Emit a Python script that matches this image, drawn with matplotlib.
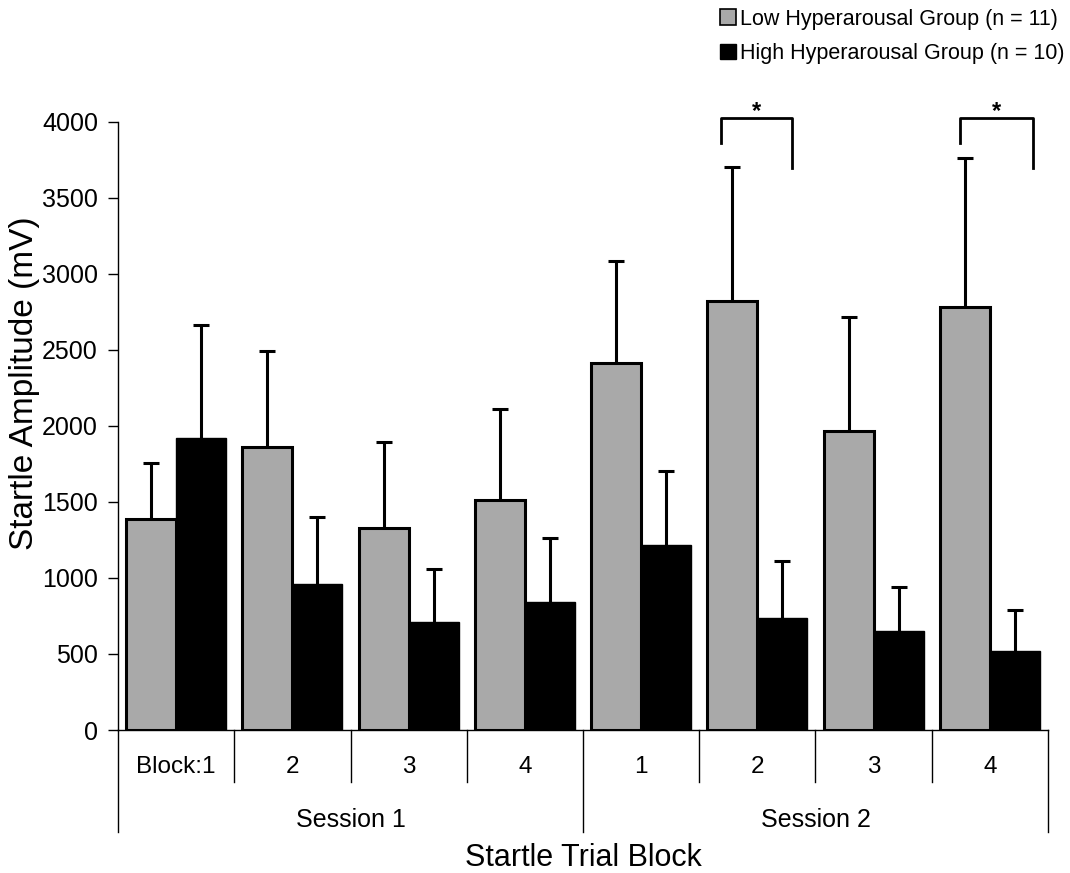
import matplotlib
matplotlib.use("Agg")
import matplotlib.pyplot as plt
from matplotlib.patches import Patch
from matplotlib.transforms import blended_transform_factory
import numpy as np

plt.rcParams['font.family'] = ['Liberation Sans', 'DejaVu Sans']

# Startle amplitude (mV) per trial block, two sessions of four blocks
block_labels = ["Block:1", "2", "3", "4", "1", "2", "3", "4"]
session_labels = ["Session 1", "Session 2"]
low_mean = [1385, 1860, 1330, 1515, 2415, 2820, 1965, 2785]
low_sem = [372, 635, 563, 595, 670, 885, 755, 978]
high_mean = [1920, 960, 710, 845, 1215, 740, 650, 520]
high_sem = [744, 440, 350, 420, 490, 370, 290, 270]
series_names = ["Low Hyperarousal Group (n = 11)", "High Hyperarousal Group (n = 10)"]
# significant comparisons: block index, bracket leg tops (left, right)
sig_blocks = [5, 7]
sig_legs = [(3860, 3700), (3860, 3700)]
sig_top = 4025

LIGHT = "#a9a9a9"

fig = plt.figure(figsize=(10.7, 8.73), dpi=100)
ax = fig.add_axes([0.1103, 0.1638, 0.8691, 0.6965])

x = np.arange(len(block_labels))
w = 0.43
ax.bar(x - w / 2, low_mean, width=w, color=LIGHT, edgecolor="black", linewidth=2.2, zorder=2)
ax.bar(x + w / 2, high_mean, width=w, color="black", edgecolor="black", linewidth=1, zorder=2)
ax.errorbar(x - w / 2, low_mean, yerr=low_sem, fmt="none", ecolor="black",
            elinewidth=2.2, capsize=6, capthick=2.2, zorder=1)
ax.errorbar(x + w / 2, high_mean, yerr=high_sem, fmt="none", ecolor="black",
            elinewidth=2.2, capsize=6, capthick=2.2, zorder=1)

ax.set_xlim(-0.5, len(block_labels) - 0.5)
ax.set_ylim(0, 4000)
ax.set_yticks(np.arange(0, 4001, 500))
ax.tick_params(axis="y", direction="out", length=7, width=1, labelsize=18, pad=7.5)
ax.set_xticks([])
for s in ["top", "right"]:
    ax.spines[s].set_visible(False)
ax.spines["left"].set_linewidth(1)
ax.spines["bottom"].set_linewidth(1)

# significance brackets
offs = [(-0.31, 0.30), (-0.26, 0.37)]
for b, (l_y, r_y), (ol, orr) in zip(sig_blocks, sig_legs, offs):
    xl, xr = b + ol, b + orr
    ax.plot([xl, xl, xr, xr], [l_y, sig_top, sig_top, r_y], color="black",
            lw=2, clip_on=False, zorder=3)
    ax.text((xl + xr) / 2, sig_top - 30, "*", ha="center", va="bottom",
            fontsize=17, fontweight="bold")

# two-level category axis
tr = blended_transform_factory(ax.transData, ax.transAxes)
for k in range(len(block_labels) + 1):
    bound = k - 0.5
    depth = -0.168 if k % 4 == 0 else -0.0855
    ax.plot([bound, bound], [0, depth], color="black", lw=1, transform=tr, clip_on=False)
for i, lab in enumerate(block_labels):
    ax.text(i, -0.061, lab, transform=tr, ha="center", va="center", fontsize=17.5)
for j, lab in enumerate(session_labels):
    ax.text(j * 4 + 1.5, -0.148, lab, transform=tr, ha="center", va="center", fontsize=18)
ax.text(3.5, -0.211, "Startle Trial Block", transform=tr, ha="center", va="center", fontsize=22)
ax.set_ylabel("Startle Amplitude (mV)", fontsize=24, labelpad=4)
ax.yaxis.set_label_coords(-0.084, 0.57)

handles = [Patch(facecolor=LIGHT, edgecolor="black", linewidth=1.2),
           Patch(facecolor="black", edgecolor="black")]
fig.legend(handles, series_names, loc="upper right", bbox_to_anchor=(1.007, 1.005),
           frameon=False, fontsize=15.5, handlelength=0.75, handleheight=0.75,
           handletextpad=0.2, labelspacing=0.62, borderaxespad=0.2)

fig.savefig("out.png", dpi=100)
